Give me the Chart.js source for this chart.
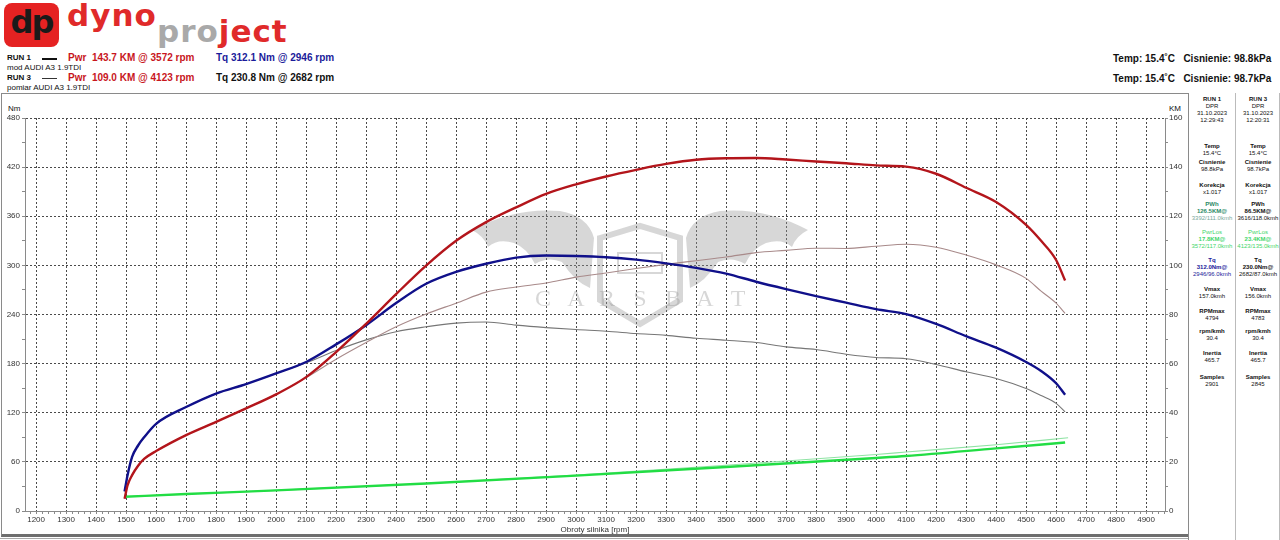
<!DOCTYPE html>
<html lang="pl">
<head>
<meta charset="UTF-8">
<title>Dyno AUDI A3 1.9TDI</title>
<script src="https://cdn.jsdelivr.net/npm/chart.js"></script>
<style>
  body { margin: 0; width: 1280px; height: 540px; background: #fff; position: relative; overflow: hidden;
         font-family: "Liberation Sans", Arial, sans-serif; color: #111; }
  .abs { position: absolute; white-space: nowrap; }
  .logo-box { left: 4px; top: 3px; width: 55px; height: 44px; background: #e52222; border-radius: 8px; }
  .logo-dp { left: 4px; top: 3px; width: 55px; text-align: center; font: bold 32px "DejaVu Sans", sans-serif; color: #1a1a1a; letter-spacing: -2px; }
  .dyno { left: 67px; top: -3px; font: bold 31px "DejaVu Sans", sans-serif; color: #e02a2a; letter-spacing: 1px; }
  .project { left: 157px; top: 13px; font: bold 31px "DejaVu Sans", sans-serif; letter-spacing: 1px; }
  .run { font-size: 8px; font-weight: bold; }
  .note { font-size: 8px; }
  .big { font-size: 10px; font-weight: bold; }
  .panel { font-size: 6px; text-align: center; width: 46px; line-height: 7px; }
  .panel b { font-weight: bold; }
</style>
</head>
<body>
<!-- logo -->
<div class="abs logo-box"></div>
<div class="abs logo-dp">dp</div>
<div class="abs dyno">dyno</div>
<div class="abs project"><span style="color:#a9a9a9">pro</span><span style="color:#e02a2a">ject</span></div>

<!-- run headers -->
<div class="abs run" style="left:7px;top:53px">RUN 1</div>
<div class="abs" style="left:42px;top:58px;width:15px;height:2px;background:#111"></div>
<div class="abs big" style="left:68px;top:52px;color:#c8161d">Pwr&nbsp; 143.7 KM @ 3572 rpm</div>
<div class="abs big" style="left:216px;top:52px;color:#1b1b9a">Tq 312.1 Nm @ 2946 rpm</div>
<div class="abs note" style="left:7px;top:63px">mod AUDI A3 1.9TDI</div>
<div class="abs run" style="left:7px;top:73px">RUN 3</div>
<div class="abs" style="left:42px;top:78px;width:15px;height:1px;background:#333"></div>
<div class="abs big" style="left:68px;top:72px;color:#c8161d">Pwr&nbsp; 109.0 KM @ 4123 rpm</div>
<div class="abs big" style="left:216px;top:72px;color:#111">Tq 230.8 Nm @ 2682 rpm</div>
<div class="abs note" style="left:7px;top:83px">pomiar AUDI A3 1.9TDI</div>

<div class="abs big" style="left:1113px;top:53px">Temp: 15.4˚C&nbsp;&nbsp; Cisnienie: 98.8kPa</div>
<div class="abs big" style="left:1113px;top:73px">Temp: 15.4˚C&nbsp;&nbsp; Cisnienie: 98.7kPa</div>

<!-- frame -->
<div class="abs" style="left:1px;top:93px;width:1186px;height:440px;border:1px solid #8a8a8a;border-bottom:3px solid #6e6e6e"></div>
<div class="abs" style="left:0;top:538px;width:1188px;height:1px;background:#aaa"></div>
<div class="abs" style="left:1188px;top:93px;width:1px;height:447px;background:#8a8a8a"></div>
<div class="abs" style="left:1235px;top:93px;width:1px;height:447px;background:#bbb"></div>
<div class="abs" style="left:1279px;top:93px;width:1px;height:447px;background:#bbb"></div>

<!-- axis unit labels -->
<div class="abs note" style="left:8px;top:104px">Nm</div>
<div class="abs note" style="left:1169px;top:104px">KM</div>

<!-- side panel -->
<div class="abs panel" style="left:1189px;top:96px">
  <b>RUN 1</b><br>DPR<br>31.10.2023<br>12:29:43
</div>
<div class="abs panel" style="left:1235px;top:96px">
  <b>RUN 3</b><br>DPR<br>31.10.2023<br>12:20:31
</div>
<div class="abs panel" style="left:1189px;top:143px"><b>Temp</b><br>15.4°C</div>
<div class="abs panel" style="left:1235px;top:143px"><b>Temp</b><br>15.4°C</div>
<div class="abs panel" style="left:1189px;top:159px"><b>Cisnienie</b><br>98.8kPa</div>
<div class="abs panel" style="left:1235px;top:159px"><b>Cisnienie</b><br>98.7kPa</div>
<div class="abs panel" style="left:1189px;top:182px"><b>Korekcja</b><br>x1.017</div>
<div class="abs panel" style="left:1235px;top:182px"><b>Korekcja</b><br>x1.017</div>
<div class="abs panel" style="left:1189px;top:201px;color:#2b8a66"><b>PWh</b><br><b>126.5KM@</b><br><span style="color:#7aa89a">3392/111.0kmh</span></div>
<div class="abs panel" style="left:1235px;top:201px"><b>PWh</b><br><b>86.5KM@</b><br>3616/118.0kmh</div>
<div class="abs panel" style="left:1189px;top:229px;color:#3fd66a">PwrLos<br><b>17.8KM@</b><br>3572/117.0kmh</div>
<div class="abs panel" style="left:1235px;top:229px;color:#3fd66a">PwrLos<br><b>23.4KM@</b><br>4123/135.0kmh</div>
<div class="abs panel" style="left:1189px;top:257px;color:#1b1b9a"><b>Tq</b><br><b>312.0Nm@</b><br>2946/96.0kmh</div>
<div class="abs panel" style="left:1235px;top:257px"><b>Tq</b><br><b>230.0Nm@</b><br>2682/87.0kmh</div>
<div class="abs panel" style="left:1189px;top:286px"><b>Vmax</b><br>157.0kmh</div>
<div class="abs panel" style="left:1235px;top:286px"><b>Vmax</b><br>156.0kmh</div>
<div class="abs panel" style="left:1189px;top:308px"><b>RPMmax</b><br>4794</div>
<div class="abs panel" style="left:1235px;top:308px"><b>RPMmax</b><br>4783</div>
<div class="abs panel" style="left:1189px;top:328px"><b>rpm/kmh</b><br>30.4</div>
<div class="abs panel" style="left:1235px;top:328px"><b>rpm/kmh</b><br>30.4</div>
<div class="abs panel" style="left:1189px;top:350px"><b>Inertia</b><br>465.7</div>
<div class="abs panel" style="left:1235px;top:350px"><b>Inertia</b><br>465.7</div>
<div class="abs panel" style="left:1189px;top:374px"><b>Samples</b><br>2901</div>
<div class="abs panel" style="left:1235px;top:374px"><b>Samples</b><br>2845</div>

<canvas id="dyno" width="1188" height="441" style="position:absolute;left:0;top:94px"></canvas>

<script>
// engine speed points shared by the four main curves
const rpm = [1495, 1505, 1520, 1540, 1560, 1600, 1700, 1800, 1900, 2000, 2100, 2200, 2300, 2400,
             2500, 2600, 2700, 2800, 2900, 3000, 3100, 3200, 3300, 3400, 3500, 3600, 3700, 3800,
             3900, 4000, 4100, 4200, 4300, 4400, 4500, 4550, 4600, 4630];

// RUN 1 (mod) - torque Nm, power KM
const run1Torque = [24, 44, 66, 80, 90, 106.5, 127, 143.5, 155, 168, 182, 203.5, 227, 254,
                    277.5, 292, 302, 309.5, 312, 311.5, 310, 307, 302.5, 297, 290, 280, 271, 262.5,
                    254.5, 246.5, 240.5, 228.5, 213.5, 199.5, 182, 171, 156, 142];
const run1Power = [5, 10.5, 14.6, 18.4, 21.2, 24.4, 30.9, 36.3, 41.8, 47.5, 54.5, 64.7, 76.2, 88.3,
                   99.9, 110, 117.6, 123.6, 129.1, 133, 136.2, 138.9, 141.3, 143, 143.6, 143.7, 143.1, 142.3,
                   141.6, 140.7, 140.2, 137.3, 131.6, 125.8, 116.5, 110, 102.2, 93.8];

// RUN 3 (pomiar) - torque Nm, power KM
const run3Torque = [24, 44, 66, 80, 90, 106.5, 127, 143.5, 155, 168, 181, 196, 209, 219,
                    225, 229.5, 230.8, 227, 224, 221.6, 219.6, 216.8, 214.5, 211, 208.6, 205.8, 200.5, 197.2,
                    191.5, 187.5, 186, 179, 170, 161.8, 149.6, 141, 131.4, 121];
const run3Power = [5, 10.5, 14.6, 18.4, 21.2, 24.4, 30.9, 36.3, 41.8, 47.5, 54.3, 61.8, 68.6, 75,
                   80.2, 84.6, 89.1, 91.2, 92.8, 95.2, 96.9, 98.7, 100.4, 101.9, 103.4, 105.2, 106.1, 107,
                   106.9, 107.8, 108.6, 107.4, 104.2, 100.2, 94.7, 89.5, 84.6, 80.5];

// drag losses KM
const lossRpm1 = [1495, 1700, 2000, 2500, 3000, 3500, 4000, 4100, 4400, 4630];
const run1Loss = [5.8, 6.9, 8.4, 11.2, 14.4, 17.9, 21.6, 22.4, 25.5, 27.9];
const lossRpm3 = [1495, 1700, 2000, 2500, 3000, 3500, 4000, 4100, 4400, 4640];
const run3Loss = [5.8, 6.9, 8.4, 11.2, 14.6, 18.6, 23.0, 24.0, 27.0, 29.8];

const rpmLabelsFrom = 1200, rpmLabelsTo = 4900;

function pts(xs, ys) {
    return xs.map((x, i) => ({ x: x, y: ys[i] }));
}

// light watermark behind the curves
const watermark = {
    id: 'watermark',
    beforeDatasetsDraw(chart) {
        const ctx = chart.ctx;
        const oy = -94;
        ctx.save();
        ctx.fillStyle = 'rgba(150,150,150,0.38)';
        ctx.strokeStyle = 'rgba(150,150,150,0.38)';
        const wing = (s) => {
            const X = (x) => 640 + s * (x - 640);
            ctx.beginPath();
            ctx.moveTo(X(472), 230 + oy);
            ctx.quadraticCurveTo(X(515), 207 + oy, X(560), 211 + oy);
            ctx.quadraticCurveTo(X(588), 216 + oy, X(594), 238 + oy);
            ctx.lineTo(X(590), 288 + oy);
            ctx.quadraticCurveTo(X(575), 282 + oy, X(562), 262 + oy);
            ctx.quadraticCurveTo(X(548), 256 + oy, X(535), 264 + oy);
            ctx.quadraticCurveTo(X(527), 248 + oy, X(514), 243 + oy);
            ctx.quadraticCurveTo(X(498), 238 + oy, X(488), 247 + oy);
            ctx.quadraticCurveTo(X(484), 236 + oy, X(472), 230 + oy);
            ctx.fill();
        };
        wing(1);
        wing(-1);
        ctx.lineWidth = 6;
        ctx.beginPath();
        ctx.moveTo(600, 238 + oy);
        ctx.lineTo(640, 226 + oy);
        ctx.lineTo(680, 238 + oy);
        ctx.lineTo(680, 300 + oy);
        ctx.lineTo(640, 324 + oy);
        ctx.lineTo(600, 300 + oy);
        ctx.closePath();
        ctx.stroke();
        ctx.lineWidth = 2;
        ctx.strokeRect(618, 253 + oy, 44, 20);
        ctx.font = '24px "Liberation Serif", "DejaVu Serif", serif';
        ctx.textAlign = 'center';
        ctx.textBaseline = 'middle';
        const letters = ['C', 'A', 'R', 'S', 'B', 'A', 'T'];
        const lx = [543, 576, 607, 640, 673, 705, 738];
        letters.forEach((l, i) => ctx.fillText(l, lx[i], 300 + oy));
        ctx.restore();
    }
};

const gridCol = '#4a4a4a';
const axisCol = '#8a8a8a';

new Chart(document.getElementById('dyno'), {
    type: 'line',
    data: {
        datasets: [
            { label: 'RUN 1 Pwr', data: pts(rpm, run1Power), yAxisID: 'yR', borderColor: '#b3151b', borderWidth: 2.4, order: 0 },
            { label: 'RUN 1 Tq', data: pts(rpm, run1Torque), yAxisID: 'yL', borderColor: '#10108a', borderWidth: 2.4, order: 0 },
            { label: 'RUN 1 Los', data: pts(lossRpm1, run1Loss), yAxisID: 'yR', borderColor: '#22dd44', borderWidth: 2.4, order: 0 },
            { label: 'RUN 3 Pwr', data: pts(rpm, run3Power), yAxisID: 'yR', borderColor: '#a88a8a', borderWidth: 1.1, order: 1 },
            { label: 'RUN 3 Tq', data: pts(rpm, run3Torque), yAxisID: 'yL', borderColor: '#767676', borderWidth: 1.1, order: 1 },
            { label: 'RUN 3 Los', data: pts(lossRpm3, run3Loss), yAxisID: 'yR', borderColor: '#8fe3a4', borderWidth: 1.1, order: 1 }
        ]
    },
    options: {
        responsive: false,
        animation: false,
        events: [],
        layout: { padding: { top: 24, left: 0, right: 0, bottom: 0 } },
        elements: {
            point: { radius: 0 },
            line: { cubicInterpolationMode: 'monotone', fill: false }
        },
        plugins: { legend: { display: false }, tooltip: { enabled: false } },
        scales: {
            x: {
                type: 'linear',
                min: 1163,
                max: 4963,
                afterBuildTicks(scale) {
                    const t = [];
                    for (let v = 1180; v <= 4960; v += 20) t.push({ value: v });
                    scale.ticks = t;
                },
                afterFit(scale) { scale.height = 24; },
                ticks: {
                    autoSkip: false,
                    maxRotation: 0,
                    padding: 1,
                    color: '#333',
                    font: { size: 8, family: '"Liberation Sans", Arial, sans-serif' },
                    callback: (v) => (v % 100 === 0 && v >= rpmLabelsFrom && v <= rpmLabelsTo) ? String(v) : ''
                },
                grid: {
                    color: (c) => (c.tick && c.tick.value % 100 === 0) ? gridCol : 'rgba(0,0,0,0)',
                    tickColor: axisCol,
                    tickLength: 3
                },
                border: { color: axisCol, dash: [2, 2] },
                title: {
                    display: true,
                    text: 'Obroty silnika [rpm]',
                    color: '#333',
                    padding: { top: 0, bottom: 0 },
                    font: { size: 8, family: '"Liberation Sans", Arial, sans-serif' }
                }
            },
            yL: {
                position: 'left',
                min: 0,
                max: 480,
                afterBuildTicks(scale) {
                    const t = [];
                    for (let v = 0; v <= 480; v += 30) t.push({ value: v });
                    scale.ticks = t;
                },
                afterFit(scale) { scale.width = 25; },
                ticks: {
                    autoSkip: false,
                    padding: 2,
                    color: '#333',
                    font: { size: 8, family: '"Liberation Sans", Arial, sans-serif' },
                    callback: (v) => v % 60 === 0 ? String(v) : ''
                },
                grid: {
                    color: (c) => (c.tick && c.tick.value % 60 === 0 && c.tick.value > 0) ? gridCol : 'rgba(0,0,0,0)',
                    tickColor: axisCol,
                    tickLength: 3
                },
                border: { color: axisCol, dash: [2, 2] }
            },
            yR: {
                position: 'right',
                min: 0,
                max: 160,
                afterBuildTicks(scale) {
                    const t = [];
                    for (let v = 0; v <= 160; v += 10) t.push({ value: v });
                    scale.ticks = t;
                },
                afterFit(scale) { scale.width = 23; },
                ticks: {
                    autoSkip: false,
                    padding: 1,
                    color: '#333',
                    font: { size: 8, family: '"Liberation Sans", Arial, sans-serif' },
                    callback: (v) => v % 20 === 0 ? String(v) : ''
                },
                grid: { drawOnChartArea: false, color: axisCol, tickLength: 3 },
                border: { color: axisCol }
            }
        }
    },
    plugins: [watermark]
});
</script>
</body>
</html>
